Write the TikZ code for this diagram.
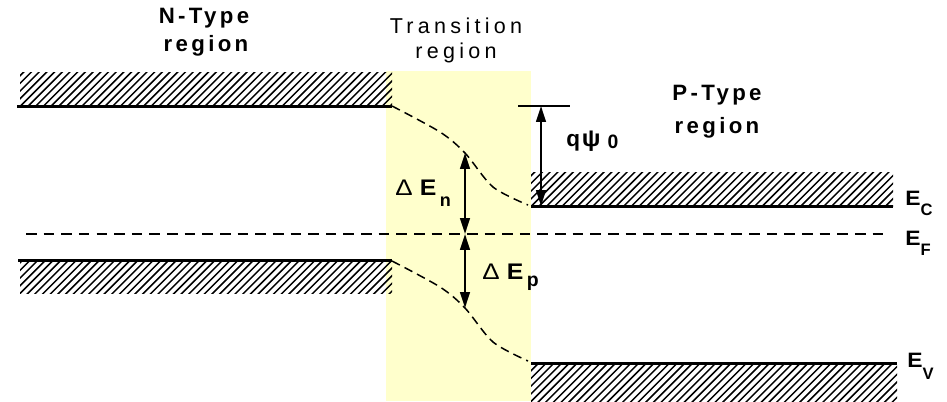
\documentclass[tikz,border=0pt]{standalone}
\usepackage{fontspec}
\setmainfont{Liberation Sans}
\usetikzlibrary{arrows.meta}
\definecolor{transyellow}{RGB}{255,255,204}
\newcommand\hatchband[4]{% x1, x2, ytop, ybottom (pixel units)
  \begin{scope}
    \clip (#1,#3) rectangle (#2,#4);
    \foreach \k in {0,...,56} {
      \draw[hatchline] ({#1-40+\k*7.7},{#4+2}) -- ++(42,-42);
    }
  \end{scope}}
\begin{document}
\begin{tikzpicture}[x=0.567pt,y=-0.567pt,
  band/.style={line width=1.7pt},
  hatchline/.style={line width=0.85pt},
  levelcurve/.style={line width=0.85pt,dash pattern=on 5pt off 3pt},
  fermi/.style={line width=1.3pt,dash pattern=on 6pt off 4pt},
  dblarrow/.style={line width=1.1pt,{Triangle[length=9pt,width=5.5pt]}-{Triangle[length=9pt,width=5.5pt]}},
  lbl/.style={inner sep=0pt,anchor=base,font=\bfseries\fontsize{12.6pt}{14pt}\selectfont\addfontfeature{LetterSpace=15}},
  tlbl/.style={inner sep=0pt,anchor=base,font=\fontsize{12.2pt}{14pt}\selectfont\addfontfeature{LetterSpace=20}},
  elbl/.style={inner sep=0pt,anchor=base west,font=\bfseries\fontsize{11.8pt}{13pt}\selectfont},
  mlbl/.style={inner sep=0pt,anchor=base west,font=\bfseries\fontsize{12.8pt}{14pt}\selectfont}
]
\useasboundingbox (0,0) rectangle (947,401);
% transition region
\fill[transyellow] (386,71) rectangle (531,401);
% hatching
\hatchband{20}{392}{72}{106}
\hatchband{20}{392}{260}{293}
\hatchband{531}{893}{172}{206}
\hatchband{531}{897}{363}{401}
% coordinates
\coordinate (nc1) at (17,106);  \coordinate (nc2) at (392,106);
\coordinate (nv1) at (18,260);  \coordinate (nv2) at (392,260);
\coordinate (pc1) at (531,206); \coordinate (pc2) at (893,206);
\coordinate (pv1) at (531,363); \coordinate (pv2) at (897,363);
\coordinate (fl) at (26,234);   \coordinate (fr) at (886,234);
\coordinate (cn) at (465,153);  \coordinate (fe) at (465,234);
\coordinate (cp) at (465,308);
\coordinate (qa) at (541,106);  \coordinate (qb) at (541,206);
\coordinate (qt1) at (518,106); \coordinate (qt2) at (570,106);
% band edges
\draw[band] (nc1) -- (nc2);
\draw[band] (nv1) -- (nv2);
\draw[band] (pc1) -- (pc2);
\draw[band] (pv1) -- (pv2);
% fermi level
\draw[fermi] (fl) -- (fr);
% bending curves
\draw[levelcurve] plot[smooth] coordinates {(392,106) (440,132) (465,153) (493,187) (528,205)};
\draw[levelcurve] plot[smooth] coordinates {(392,261) (440,287) (465,308) (493,342) (528,361)};
% arrows
\draw[dblarrow] (cn) -- (fe);
\draw[dblarrow] (fe) -- (cp);
\draw[line width=0.85pt] (qt1) -- (qt2);
\draw[dblarrow] (qa) -- (qb);
% labels
\node[lbl] (ntype) at (204,23) {N-Type};
\node[lbl] (nreg) at (206,51) {region};
\node[tlbl] (trans) at (456,33) {Transition};
\node[tlbl] (treg) at (456,58) {region};
\node[lbl] (ptype) at (717,100) {P-Type};
\node[lbl] (preg) at (717,133) {region};
\node[mlbl] (qpsi) at (566,146) {q\hspace{1pt}\scalebox{1.1}[1.05]{ψ}\hspace{4pt}\raisebox{-1.5pt}{\fontsize{11pt}{12pt}\selectfont 0}};
\node[mlbl] (den) at (395,195) {{\mdseries\scalebox{1.15}[1]{Δ}}\hspace{4pt}\scalebox{1.1}[1]{E}\hspace{2pt}\raisebox{-6.5pt}{\fontsize{10.2pt}{11pt}\selectfont n}};
\node[mlbl] (dep) at (482,279) {{\mdseries\scalebox{1.15}[1]{Δ}}\hspace{4pt}\scalebox{1.1}[1]{E}\hspace{2pt}\raisebox{-4pt}{\fontsize{11pt}{12pt}\selectfont p}};
\node[elbl] (ec) at (905,205) {\scalebox{1.1}[1]{E}\raisebox{-6pt}{\fontsize{9.4pt}{10pt}\selectfont C}};
\node[elbl] (ef) at (905,245) {\scalebox{1.1}[1]{E}\raisebox{-6pt}{\fontsize{9.4pt}{10pt}\selectfont F}};
\node[elbl] (ev) at (907,367) {\scalebox{1.1}[1]{E}\raisebox{-6.8pt}{\fontsize{9.4pt}{10pt}\selectfont V}};
\end{tikzpicture}
\end{document}
